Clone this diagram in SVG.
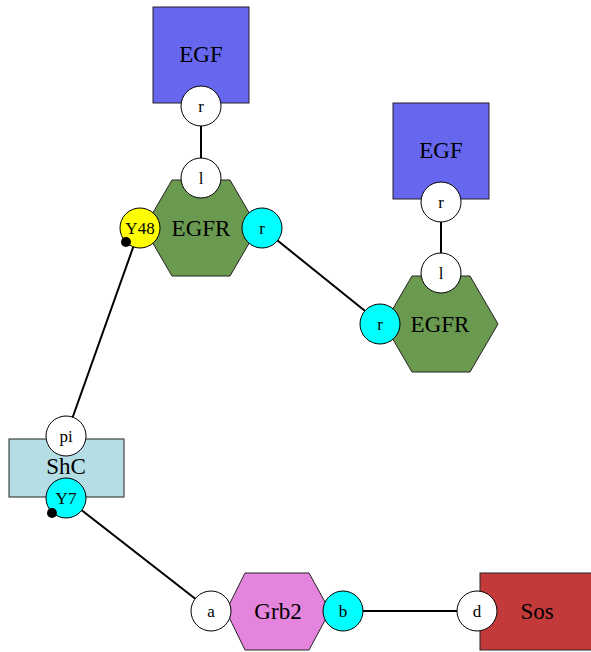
<svg xmlns="http://www.w3.org/2000/svg" width="591" height="652" viewBox="0 0 591 652">
<style>
.n{stroke:#222;stroke-width:1}
.t{font-family:"Liberation Serif","Times New Roman",serif;font-size:23px;fill:#000;text-anchor:middle;dominant-baseline:central}
.p{stroke:#000;stroke-width:1}
.pt{font-family:"Liberation Serif","Times New Roman",serif;font-size:17px;fill:#000;text-anchor:middle;dominant-baseline:central}
.e{stroke:#000;stroke-width:2;fill:none}
</style>
<rect width="591" height="652" fill="#fff"/>
<g id="connectors">
<line class="e" x1="201" y1="107" x2="201" y2="178"/>
<line class="e" x1="441" y1="202" x2="441" y2="273"/>
<line class="e" x1="262" y1="228" x2="380" y2="323"/>
<line class="e" x1="140" y1="228" x2="66" y2="436"/>
<line class="e" x1="66" y1="498" x2="211" y2="611"/>
<line class="e" x1="343" y1="611" x2="477" y2="611"/>
</g>
<g id="EGF1">
<rect class="n" x="153" y="7" width="96" height="96" fill="#6666ee"/>
<text class="t" x="201" y="54">EGF</text>
<circle class="p" cx="201" cy="106" r="20" fill="#fff"/>
<text class="pt" x="201" y="106">r</text>
</g>
<g id="EGF2">
<rect class="n" x="393" y="103" width="96" height="96" fill="#6666ee"/>
<text class="t" x="441" y="150">EGF</text>
<circle class="p" cx="441" cy="202" r="20" fill="#fff"/>
<text class="pt" x="441" y="202">r</text>
</g>
<g id="EGFR1">
<polygon class="n" points="144,228 172,180 230,180 258,228 230,276 172,276" fill="#6a9a50"/>
<text class="t" x="201" y="228">EGFR</text>
<circle class="p" cx="201" cy="178" r="20" fill="#fff"/>
<text class="pt" x="201" y="178">l</text>
<circle class="p" cx="140" cy="228" r="20" fill="#ffff00"/>
<text class="pt" x="140" y="228">Y48</text>
<circle cx="126" cy="242" r="5" fill="#000"/>
<circle class="p" cx="262" cy="228" r="20" fill="#00ffff"/>
<text class="pt" x="262" y="228">r</text>
</g>
<g id="EGFR2">
<polygon class="n" points="384,324 412,276 470,276 498,324 470,372 412,372" fill="#6a9a50"/>
<text class="t" x="440" y="324">EGFR</text>
<circle class="p" cx="441" cy="273" r="20" fill="#fff"/>
<text class="pt" x="441" y="273">l</text>
<circle class="p" cx="380" cy="324" r="20" fill="#00ffff"/>
<text class="pt" x="380" y="324">r</text>
</g>
<g id="ShC">
<rect class="n" x="9" y="439" width="115" height="58" fill="#b5dde6"/>
<text class="t" x="66" y="466">ShC</text>
<circle class="p" cx="66" cy="436" r="20" fill="#fff"/>
<text class="pt" x="66" y="436">pi</text>
<circle class="p" cx="66" cy="498" r="20" fill="#00ffff"/>
<text class="pt" x="66" y="498">Y7</text>
<circle cx="52" cy="513" r="5" fill="#000"/>
</g>
<g id="Grb2">
<polygon class="n" points="226,611 245,573 309,573 330,611 309,650 245,650" fill="#e484dc"/>
<text class="t" x="278" y="611">Grb2</text>
<circle class="p" cx="211" cy="611" r="20" fill="#fff"/>
<text class="pt" x="211" y="611">a</text>
<circle class="p" cx="343" cy="611" r="20" fill="#00ffff"/>
<text class="pt" x="343" y="611">b</text>
</g>
<g id="Sos">
<rect class="n" x="480" y="573" width="114" height="77" fill="#c43a3a"/>
<text class="t" x="537" y="611">Sos</text>
<circle class="p" cx="477" cy="611" r="20" fill="#fff"/>
<text class="pt" x="477" y="611">d</text>
</g>
</svg>
